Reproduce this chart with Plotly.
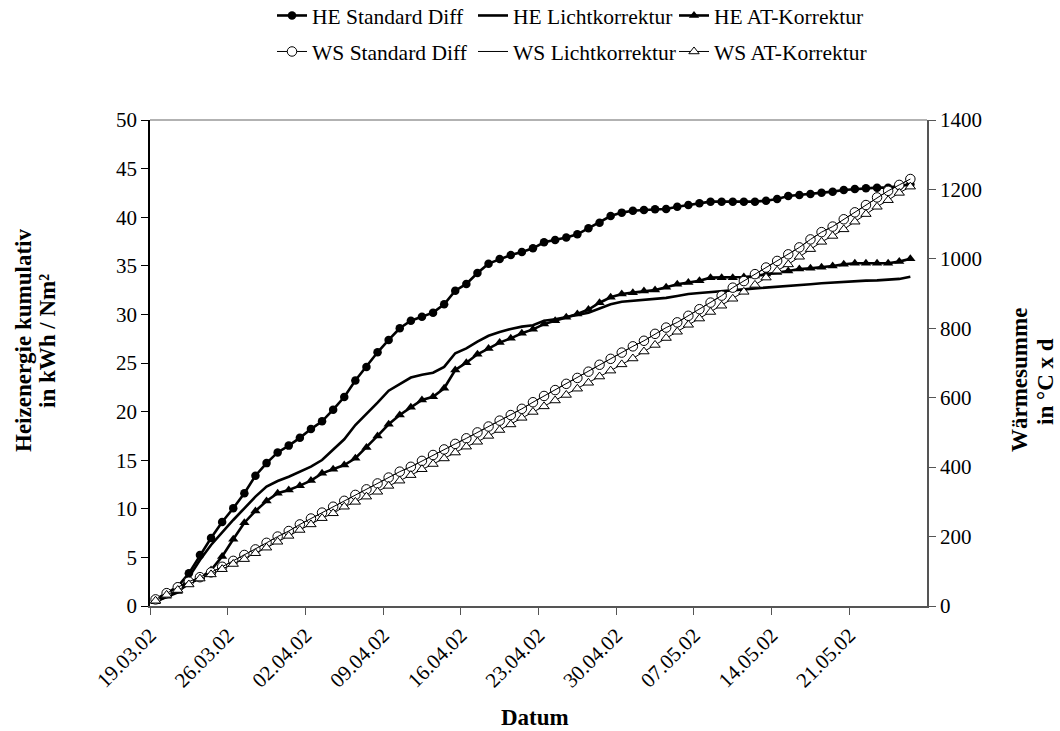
import pandas as pd
import plotly.graph_objects as go

# ---------------- data ----------------
start_date = "2002-03-19"

he_standard = [0.69, 1.37, 1.99, 3.36, 5.25, 7.0, 8.64, 10.05, 11.6, 13.4,
               14.7, 15.8, 16.5, 17.3, 18.2, 19.0, 20.2, 21.5, 23.2, 24.6,
               26.1, 27.37, 28.57, 29.35, 29.77, 30.18, 31.04, 32.44, 33.13, 34.26,
               35.22, 35.7, 36.1, 36.42, 36.8, 37.42, 37.65, 37.9, 38.24, 38.86,
               39.44, 40.12, 40.47, 40.67, 40.74, 40.81, 40.84, 41.08, 41.26, 41.43,
               41.6, 41.6, 41.6, 41.6, 41.6, 41.7, 41.87, 42.18, 42.28, 42.39,
               42.52, 42.63, 42.8, 42.9, 42.97, 43.04, 43.04, 43.2, 43.38]

he_licht = [0.45, 0.96, 1.4, 2.95, 4.73, 6.28, 7.58, 8.85, 10.05, 11.25,
            12.28, 12.86, 13.3, 13.82, 14.33, 15.02, 16.05, 17.15, 18.62, 19.75,
            20.92, 22.15, 22.87, 23.5, 23.8, 24.0, 24.6, 26.0, 26.5, 27.2,
            27.8, 28.2, 28.5, 28.74, 28.88, 29.35, 29.5, 29.7, 29.9, 30.17,
            30.6, 31.04, 31.3, 31.4, 31.45, 31.55, 31.7, 31.9, 32.1, 32.2,
            32.28, 32.34, 32.45, 32.57, 32.68, 32.75, 32.84, 32.92, 33.0, 33.1,
            33.2, 33.28, 33.36, 33.44, 33.47, 33.5, 33.54, 33.65, 33.88]

he_at = [0.45, 1.0, 1.5, 2.3, 2.85, 3.7, 5.1, 6.86, 8.57, 9.77,
         10.8, 11.6, 11.93, 12.38, 12.9, 13.65, 14.07, 14.5, 15.2, 16.3,
         17.5, 18.7, 19.65, 20.44, 21.19, 21.53, 22.4, 24.28, 25.03, 25.9,
         26.5, 27.1, 27.54, 28.06, 28.46, 29.0, 29.35, 29.7, 30.04, 30.5,
         31.2, 31.76, 32.1, 32.24, 32.4, 32.5, 32.8, 33.1, 33.27, 33.47,
         33.78, 33.78, 33.78, 33.85, 33.95, 34.16, 34.3, 34.47, 34.67, 34.74,
         34.84, 34.98, 35.15, 35.26, 35.26, 35.26, 35.26, 35.43, 35.73]

ws_standard = [19, 37, 54, 70, 83, 97, 113, 130, 147, 163,
               182, 200, 216, 235, 252, 269, 286, 303, 320, 336,
               353, 370, 387, 401, 418, 435, 451, 467, 483, 500,
               517, 534, 550, 568, 587, 605, 622, 640, 657, 675,
               695, 712, 730, 748, 764, 784, 802, 817, 836, 855,
               874, 894, 917, 936, 956, 975, 994, 1013, 1033, 1056,
               1077, 1093, 1114, 1134, 1155, 1177, 1196, 1213, 1230]

ws_licht = list(ws_standard)  # WS Lichtkorrektur coincides with WS Standard Diff

ws_at = [15, 32, 46, 62, 79, 91, 106, 121, 135, 152,
         168, 185, 202, 219, 235, 253, 267, 286, 300, 315,
         329, 346, 361, 377, 394, 409, 425, 442, 459, 473,
         490, 507, 523, 542, 559, 575, 592, 608, 626, 643,
         661, 678, 696, 713, 733, 752, 772, 790, 810, 828,
         847, 865, 885, 905, 925, 946, 966, 984, 1006, 1028,
         1049, 1066, 1085, 1107, 1129, 1150, 1169, 1190, 1208]

tick_labels = ["19.03.02", "26.03.02", "02.04.02", "09.04.02", "16.04.02",
               "23.04.02", "30.04.02", "07.05.02", "14.05.02", "21.05.02"]
x_range = ["2002-03-19", "2002-05-28"]

series_names = ["HE Standard Diff", "HE Lichtkorrektur", "HE AT-Korrektur",
                "WS Standard Diff", "WS Lichtkorrektur", "WS AT-Korrektur"]

x_title = "Datum"
y_title_lines = ["Heizenergie kumulativ", "in kWh / Nm²"]
y2_title_lines = ["Wärmesumme", "in °C x d"]

# ---------------- figure ----------------
dates = pd.date_range(start_date, periods=len(he_standard), freq="D") + pd.Timedelta(hours=12)
tickvals = pd.to_datetime(tick_labels, format="%d.%m.%y")

FONT = "Liberation Serif, Times New Roman, serif"
fig = go.Figure()

fig.add_trace(go.Scatter(x=dates, y=he_standard, name=series_names[0], mode="lines+markers",
                         line=dict(color="black", width=2.6),
                         marker=dict(symbol="circle", size=8.5, color="black"),
                         legend="legend"))
fig.add_trace(go.Scatter(x=dates, y=he_licht, name=series_names[1], mode="lines",
                         line=dict(color="black", width=2.6), legend="legend"))
fig.add_trace(go.Scatter(x=dates, y=he_at, name=series_names[2], mode="lines+markers",
                         line=dict(color="black", width=2.6),
                         marker=dict(symbol="triangle-up", size=9, color="black"),
                         legend="legend"))
fig.add_trace(go.Scatter(x=dates, y=ws_standard, name=series_names[3], mode="lines+markers",
                         yaxis="y2", line=dict(color="black", width=1),
                         marker=dict(symbol="circle", size=9.5, color="white",
                                     line=dict(color="black", width=1)),
                         legend="legend2"))
fig.add_trace(go.Scatter(x=dates, y=ws_licht, name=series_names[4], mode="lines",
                         yaxis="y2", line=dict(color="black", width=1), legend="legend2"))
fig.add_trace(go.Scatter(x=dates, y=ws_at, name=series_names[5], mode="lines+markers",
                         yaxis="y2", line=dict(color="black", width=1),
                         marker=dict(symbol="triangle-up", size=9, color="white",
                                     line=dict(color="black", width=1)),
                         legend="legend2"))

tickfont = dict(family=FONT, size=21, color="black")
TITLE_SIZE = 23
LEG_SIZE = 21.5


def px_to_paper_x(px):
    return (px - 150) / 777.0


def py_to_paper_y(py):
    return (606 - py) / 486.0


legend_common = dict(orientation="h", xanchor="left", yanchor="top", yref="paper",
                     font=dict(family=FONT, size=LEG_SIZE, color="black"),
                     entrywidth=156, entrywidthmode="pixels", itemwidth=30,
                     bgcolor="rgba(0,0,0,0)", traceorder="normal")

annotations = [
    dict(text=f"<b>{x_title}</b>", x=px_to_paper_x(535), y=py_to_paper_y(717)),
    dict(text=f"<b>{y_title_lines[0]}</b>", x=px_to_paper_x(23), y=py_to_paper_y(341), textangle=-90),
    dict(text=f"<b>{y_title_lines[1]}</b>", x=px_to_paper_x(47), y=py_to_paper_y(341), textangle=-90),
    dict(text=f"<b>{y2_title_lines[0]}</b>", x=px_to_paper_x(1019), y=py_to_paper_y(380), textangle=-90),
    dict(text=f"<b>{y2_title_lines[1]}</b>", x=px_to_paper_x(1045), y=py_to_paper_y(382), textangle=-90),
]
for a in annotations:
    a.update(xref="paper", yref="paper", showarrow=False, xanchor="center", yanchor="middle",
             font=dict(family=FONT, size=TITLE_SIZE, color="black"))

fig.update_layout(
    width=1060, height=731,
    margin=dict(l=150, r=133, t=120, b=125, autoexpand=False),
    paper_bgcolor="white", plot_bgcolor="white",
    font=dict(family=FONT, size=20, color="black"),
    showlegend=True,
    legend=dict(x=px_to_paper_x(272), y=py_to_paper_y(-5), **legend_common),
    legend2=dict(x=px_to_paper_x(272), y=py_to_paper_y(31), **legend_common),
    xaxis=dict(type="date", range=x_range, tickvals=tickvals, ticktext=tick_labels,
               tickangle=-45, tickfont=tickfont, ticks="outside", ticklen=7,
               tickcolor="#555555", linecolor="#555555", linewidth=1.5, showline=True,
               showgrid=False, zeroline=False),
    xaxis3=dict(type="date", range=x_range, tickvals=tickvals, overlaying="x", anchor="y",
                ticks="inside", ticklen=7, tickcolor="#555555", showticklabels=False,
                showgrid=False, zeroline=False, showline=False),
    yaxis=dict(range=[0, 50], dtick=5, tick0=0, tickfont=tickfont, ticks="outside",
               ticklen=7, tickcolor="black", linecolor="black", linewidth=1.5,
               showline=True, showgrid=False, zeroline=False),
    yaxis2=dict(range=[0, 1400], dtick=200, tick0=0, overlaying="y", side="right",
                tickfont=tickfont, ticks="outside", ticklen=7, tickcolor="#555555",
                linecolor="#555555", linewidth=1.5, showline=True, showgrid=False,
                zeroline=False),
    yaxis3=dict(range=[0, 50], dtick=5, tick0=0, overlaying="y", side="left",
                ticks="inside", ticklen=7, tickcolor="black", showticklabels=False,
                showgrid=False, zeroline=False, showline=False),
    yaxis4=dict(range=[0, 1400], dtick=200, tick0=0, overlaying="y", side="right",
                ticks="inside", ticklen=7, tickcolor="#555555", showticklabels=False,
                showgrid=False, zeroline=False, showline=False),
    shapes=[dict(type="line", xref="x domain", yref="y domain", x0=0, x1=1, y0=1, y1=1,
                 line=dict(color="#999999", width=1.5))],
    annotations=annotations,
)

fig.write_html("out.html")
